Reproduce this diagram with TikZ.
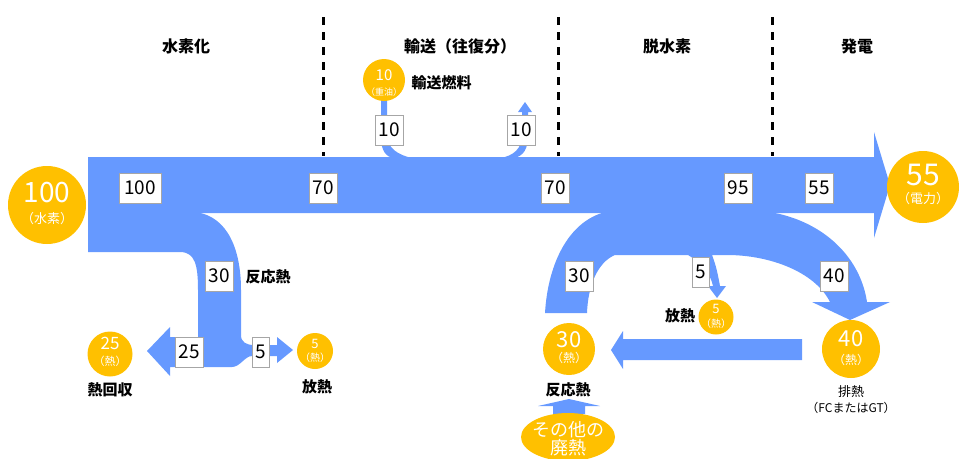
\documentclass[tikz,border=0pt]{standalone}
\usepackage{fontspec}
\usetikzlibrary{shapes.geometric}
\setmainfont{Noto Sans CJK JP}
\setsansfont{Noto Sans CJK JP}
\definecolor{flowblue}{RGB}{102,153,255}
\definecolor{heat}{RGB}{255,192,0}
\newcommand{\fs}[1]{\fontsize{#1}{#1}\selectfont}
\tikzset{
  flow/.style={fill=flowblue, draw=none},
  numbox/.style={draw=gray!70, fill=white, minimum height=30pt, inner sep=2.5pt, font=\fs{19}},
  disc/.style={circle, fill=heat, inner sep=0pt},
  wt/.style={text=white, inner sep=0pt},
  hdr/.style={font=\bfseries\fs{16}},
  lbl/.style={font=\bfseries\fs{15}},
  sep/.style={line width=3pt, dash pattern=on 8pt off 7pt}
}
\begin{document}
\begin{tikzpicture}[x=1pt,y=-1pt]
\useasboundingbox (0,0) rectangle (961,458);

% headers and separators
\node[hdr] (h1) at (186,46) {水素化};
\node[hdr] (h2) at (460,46) {輸送（往復分）};
\node[hdr] (h3) at (667,46) {脱水素};
\node[hdr] (h4) at (857,46) {発電};
\draw[sep] (323,17) -- (323,156);
\draw[sep] (558,17) -- (558,156);
\draw[sep] (772,17) -- (772,156);

% main band with arrow head
\fill[flow] (88,157) -- (874,157) -- (874,132) -- (890,185) -- (874,238) -- (874,213) -- (88,213) -- cycle;

% hydrogenation branch
\fill[flow] (88,212) -- (195,212) .. controls (228,216) and (241,250) .. (241,290)
  -- (241,335) .. controls (241,342) and (246,345) .. (254,345) -- (277,345) -- (277,337)
  -- (293,350) -- (277,363) -- (277,356) -- (252,356) .. controls (245,356) and (240,367) .. (232,367)
  -- (170,367) -- (170,376) -- (147,351) -- (170,327) -- (170,337) -- (198,337) -- (198,290)
  .. controls (198,265) and (195,252) .. (180,252) -- (88,252) -- cycle;

% transport stems
\fill[flow] (381,98) -- (381,138) .. controls (381,150) and (386,158) .. (395,158) -- (412,158)
  .. controls (398,155) and (387,148) .. (387,135) -- (387,98) -- cycle;
\fill[flow] (500,158) -- (514,158) .. controls (524,156) and (528,148) .. (528,136) -- (528,112) -- (532,112)
  -- (525,102) -- (518,112) -- (522,112) -- (522,135) .. controls (522,148) and (514,156) .. (500,158) -- cycle;

% dehydrogenation lower part
\fill[flow] (545,313) .. controls (548,262) and (570,218) .. (610,211) -- (763,211)
  .. controls (820,218) and (860,255) .. (867,302) -- (890,302) -- (850,320) -- (812,302) -- (830,302)
  .. controls (815,272) and (770,255) .. (727,255) -- (712,255)
  .. controls (716,265) and (718,275) .. (720,286) -- (726,286) -- (717,298) -- (708,286) -- (713,286)
  .. controls (710,272) and (700,262) .. (688,255) -- (615,255)
  .. controls (598,262) and (588,285) .. (587,313) -- cycle;

% return heat arrow
\fill[flow] (802,339) -- (623,339) -- (623,331) -- (611,350) -- (623,369) -- (623,360) -- (802,360) -- cycle;

% up arrow from other waste heat
\fill[flow] (553,414) -- (553,406) -- (538,406) -- (569,399) -- (600,406) -- (585,406) -- (585,414) -- cycle;

% circles
\node[disc, minimum size=78pt] (c100) at (47,205) {};
\node[wt, font=\fs{28}] (c100n) at (47,193) {100};
\node[wt, font=\fs{13}] (c100t) at (47,219) {（水素）};

\node[disc, minimum size=72pt] (c55) at (923,187) {};
\node[wt, font=\fs{30}] (c55n) at (923,175) {55};
\node[wt, font=\fs{13}] (c55t) at (923,199) {（電力）};

\node[disc, minimum size=42pt] (c10) at (384,80) {};
\node[wt, font=\fs{15}] (c10n) at (384,75) {10};
\node[wt, font=\fs{9}] (c10t) at (384,92) {（重油）};

\node[disc, minimum size=45pt] (c25) at (110,354) {};
\node[wt, font=\fs{17}] (c25n) at (110,343) {25};
\node[wt, font=\fs{11}] (c25t) at (110,361) {（熱）};

\node[disc, minimum size=36pt] (c5a) at (315,351) {};
\node[wt, font=\fs{13}] (c5an) at (315,344) {5};
\node[wt, font=\fs{10}] (c5at) at (315,358) {（熱）};

\node[disc, minimum size=35pt] (c5b) at (716,317) {};
\node[wt, font=\fs{13}] (c5bn) at (716,309) {5};
\node[wt, font=\fs{10}] (c5bt) at (716,324) {（熱）};

\node[disc, minimum size=52pt] (c30) at (569,349) {};
\node[wt, font=\fs{22}] (c30n) at (569,340) {30};
\node[wt, font=\fs{12}] (c30t) at (569,358) {（熱）};

\node[disc, minimum size=58pt] (c40) at (851,349) {};
\node[wt, font=\fs{22}] (c40n) at (851,339) {40};
\node[wt, font=\fs{12}] (c40t) at (851,360) {（熱）};

\node[ellipse, fill=heat, minimum width=94pt, minimum height=48pt, inner sep=0pt] (waste) at (568,437) {};
\node[wt, font=\fs{18}] (wasten) at (568,430) {その他の};
\node[wt, font=\fs{18}] (wastet) at (568,448) {廃熱};

% number boxes
\node[numbox, minimum width=42pt] (b100) at (140,188) {100};
\node[numbox, minimum width=28pt] (b70a) at (323,188) {70};
\node[numbox, minimum width=28pt] (b70b) at (555,188) {70};
\node[numbox, minimum width=28pt] (b95) at (738,188) {95};
\node[numbox, minimum width=28pt] (b55) at (819,188) {55};
\node[numbox, minimum width=28pt] (b10a) at (389,130) {10};
\node[numbox, minimum width=28pt] (b10b) at (521,130) {10};
\node[numbox, minimum width=28pt] (b30a) at (219,276) {30};
\node[numbox, minimum width=28pt] (b25) at (189,352) {25};
\node[numbox, minimum width=17pt] (b5a) at (261,352) {5};
\node[numbox, minimum width=28pt] (b30b) at (579,276) {30};
\node[numbox, minimum width=17pt] (b5b) at (701,272) {5};
\node[numbox, minimum width=28pt] (b40) at (834,276) {40};

% labels
\node[lbl, anchor=west] (t1) at (408,83) {輸送燃料};
\node[lbl, anchor=west] (t2) at (242,277) {反応熱};
\node[lbl] (t3) at (110,390) {熱回収};
\node[lbl] (t4) at (317,387) {放熱};
\node[lbl] (t5) at (680,316) {放熱};
\node[lbl] (t6) at (568,390) {反応熱};
\node[font=\fs{13}] (t7) at (851,392) {排熱};
\node[font=\fs{12}] (t8) at (851,408) {（FCまたはGT）};
\end{tikzpicture}
\end{document}
